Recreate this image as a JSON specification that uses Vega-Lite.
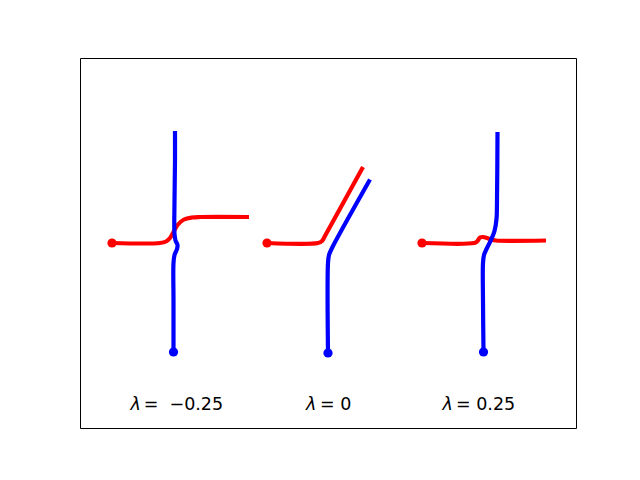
{
  "$schema": "https://vega.github.io/schema/vega-lite/v6.json",
  "autosize": "none",
  "padding": {"left": 80, "top": 58, "right": 64, "bottom": 52},
  "width": 496,
  "height": 370,
  "background": "white",
  "config": {"view": {"stroke": "black", "strokeWidth": 1}},
  "datasets": {
    "curves": [
      {"panel": "a", "series": "red", "i": 0, "u": 31, "v": 185},
      {"panel": "a", "series": "red", "i": 1, "u": 79, "v": 185},
      {"panel": "a", "series": "red", "i": 2, "u": 85, "v": 186.5},
      {"panel": "a", "series": "red", "i": 3, "u": 89, "v": 190},
      {"panel": "a", "series": "red", "i": 4, "u": 93, "v": 197},
      {"panel": "a", "series": "red", "i": 5, "u": 97, "v": 203.5},
      {"panel": "a", "series": "red", "i": 6, "u": 103, "v": 208.5},
      {"panel": "a", "series": "red", "i": 7, "u": 111, "v": 210.5},
      {"panel": "a", "series": "red", "i": 8, "u": 119, "v": 211},
      {"panel": "a", "series": "red", "i": 9, "u": 168, "v": 211},
      {"panel": "a", "series": "blue", "i": 0, "u": 92.5, "v": 76},
      {"panel": "a", "series": "blue", "i": 1, "u": 92.5, "v": 127},
      {"panel": "a", "series": "blue", "i": 2, "u": 92.5, "v": 165},
      {"panel": "a", "series": "blue", "i": 3, "u": 93.5, "v": 173},
      {"panel": "a", "series": "blue", "i": 4, "u": 96, "v": 179},
      {"panel": "a", "series": "blue", "i": 5, "u": 96.5, "v": 183},
      {"panel": "a", "series": "blue", "i": 6, "u": 94.5, "v": 187.5},
      {"panel": "a", "series": "blue", "i": 7, "u": 93.5, "v": 194},
      {"panel": "a", "series": "blue", "i": 8, "u": 93.5, "v": 227},
      {"panel": "a", "series": "blue", "i": 9, "u": 94, "v": 267},
      {"panel": "a", "series": "blue", "i": 10, "u": 94, "v": 297},
      {"panel": "b", "series": "red", "i": 0, "u": 186, "v": 185},
      {"panel": "b", "series": "red", "i": 1, "u": 237, "v": 185},
      {"panel": "b", "series": "red", "i": 2, "u": 241, "v": 187},
      {"panel": "b", "series": "red", "i": 3, "u": 244.5, "v": 193},
      {"panel": "b", "series": "red", "i": 4, "u": 282, "v": 261},
      {"panel": "b", "series": "blue", "i": 0, "u": 247, "v": 75},
      {"panel": "b", "series": "blue", "i": 1, "u": 247, "v": 165},
      {"panel": "b", "series": "blue", "i": 2, "u": 248, "v": 173},
      {"panel": "b", "series": "blue", "i": 3, "u": 251, "v": 180},
      {"panel": "b", "series": "blue", "i": 4, "u": 289, "v": 248.5},
      {"panel": "c", "series": "red", "i": 0, "u": 341, "v": 185},
      {"panel": "c", "series": "red", "i": 1, "u": 393, "v": 185},
      {"panel": "c", "series": "red", "i": 2, "u": 396, "v": 186.5},
      {"panel": "c", "series": "red", "i": 3, "u": 399, "v": 190.5},
      {"panel": "c", "series": "red", "i": 4, "u": 402, "v": 191},
      {"panel": "c", "series": "red", "i": 5, "u": 406, "v": 190},
      {"panel": "c", "series": "red", "i": 6, "u": 410, "v": 188.5},
      {"panel": "c", "series": "red", "i": 7, "u": 415, "v": 187.5},
      {"panel": "c", "series": "red", "i": 8, "u": 465, "v": 187.5},
      {"panel": "c", "series": "blue", "i": 0, "u": 402.5, "v": 76},
      {"panel": "c", "series": "blue", "i": 1, "u": 402, "v": 127},
      {"panel": "c", "series": "blue", "i": 2, "u": 402, "v": 165},
      {"panel": "c", "series": "blue", "i": 3, "u": 403, "v": 173},
      {"panel": "c", "series": "blue", "i": 4, "u": 406, "v": 180},
      {"panel": "c", "series": "blue", "i": 5, "u": 410, "v": 188},
      {"panel": "c", "series": "blue", "i": 6, "u": 413.5, "v": 197},
      {"panel": "c", "series": "blue", "i": 7, "u": 415.5, "v": 209},
      {"panel": "c", "series": "blue", "i": 8, "u": 416, "v": 227},
      {"panel": "c", "series": "blue", "i": 9, "u": 416.5, "v": 296}
    ],
    "starts": [
      {"series": "red", "u": 31, "v": 185},
      {"series": "red", "u": 186, "v": 185},
      {"series": "red", "u": 341, "v": 185},
      {"series": "blue", "u": 92.5, "v": 76},
      {"series": "blue", "u": 247, "v": 75},
      {"series": "blue", "u": 402.5, "v": 76}
    ],
    "labels": [
      {"lam_u": 49.5, "rest_u": 62.7, "v": 18, "rest": "=\u00a0\u00a0−0.25"},
      {"lam_u": 225, "rest_u": 239, "v": 18, "rest": "= 0"},
      {"lam_u": 361.5, "rest_u": 375, "v": 18, "rest": "= 0.25"}
    ]
  },
  "resolve": {"scale": {"x": "shared", "y": "shared"}},
  "layer": [
    {
      "data": {"name": "curves"},
      "transform": [{"filter": "datum.series === 'red'"}],
      "mark": {"type": "line", "strokeWidth": 4.2, "interpolate": "catmull-rom", "color": "#ff0000"},
      "encoding": {
        "x": {"field": "u", "type": "quantitative", "scale": {"domain": [-1, 495], "nice": false, "zero": false}, "axis": null},
        "y": {"field": "v", "type": "quantitative", "scale": {"domain": [0, 370], "nice": false, "zero": false}, "axis": null},
        "detail": {"field": "panel"},
        "order": {"field": "i"}
      }
    },
    {
      "data": {"name": "curves"},
      "transform": [{"filter": "datum.series === 'blue'"}],
      "mark": {"type": "line", "strokeWidth": 4.2, "interpolate": "catmull-rom", "color": "#0000ff"},
      "encoding": {
        "x": {"field": "u", "type": "quantitative"},
        "y": {"field": "v", "type": "quantitative"},
        "detail": {"field": "panel"},
        "order": {"field": "i"}
      }
    },
    {
      "data": {"name": "starts"},
      "mark": {"type": "circle", "size": 85, "opacity": 1},
      "encoding": {
        "x": {"field": "u", "type": "quantitative"},
        "y": {"field": "v", "type": "quantitative"},
        "color": {"field": "series", "type": "nominal", "scale": {"domain": ["red", "blue"], "range": ["#ff0000", "#0000ff"]}, "legend": null}
      }
    },
    {
      "data": {"name": "labels"},
      "mark": {"type": "text", "font": "DejaVu Sans", "fontStyle": "italic", "fontSize": 17.5, "align": "left", "baseline": "alphabetic", "color": "black"},
      "encoding": {
        "x": {"field": "lam_u", "type": "quantitative"},
        "y": {"field": "v", "type": "quantitative"},
        "text": {"value": "λ"}
      }
    },
    {
      "data": {"name": "labels"},
      "mark": {"type": "text", "font": "DejaVu Sans", "fontSize": 17.5, "align": "left", "baseline": "alphabetic", "color": "black"},
      "encoding": {
        "x": {"field": "rest_u", "type": "quantitative"},
        "y": {"field": "v", "type": "quantitative"},
        "text": {"field": "rest"}
      }
    }
  ]
}
